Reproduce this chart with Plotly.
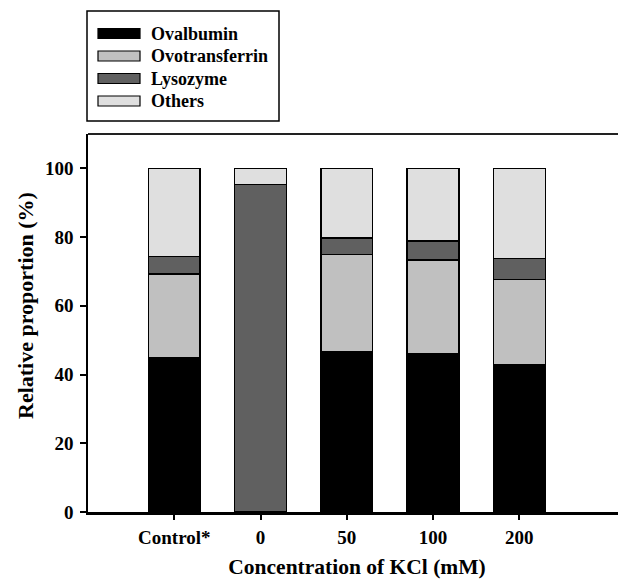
import plotly.graph_objects as go

categories = ["Control*", "0", "50", "100", "200"]
series_names = ["Ovalbumin", "Ovotransferrin", "Lysozyme", "Others"]
ovalbumin = [45.0, 0.0, 46.6, 46.1, 42.9]
ovotransferrin = [24.3, 0.0, 28.3, 27.2, 24.8]
lysozyme = [5.0, 95.3, 4.9, 5.6, 6.0]
others = [25.7, 4.7, 20.2, 21.1, 26.3]
colors = ["#000000", "#c0c0c0", "#606060", "#dfdfdf"]
y_ticks = [0, 20, 40, 60, 80, 100]

# page body has an 8px margin; figure is sized so it ends at the window edge
OFF = 8
W, H = 626 - OFF, 579 - OFF
L, T, B = 88 - OFF, 134 - OFF, 67
R = 0
PW, PH = W - L - R, H - T - B
FONT = "Liberation Serif"


def px(x):
    return (x - OFF - L) / PW


def py(y):
    return (H - B - (y - OFF)) / PH


fig = go.Figure()
for name, vals, col in zip(series_names, [ovalbumin, ovotransferrin, lysozyme, others], colors):
    fig.add_trace(go.Bar(
        x=categories, y=vals, name=name, width=0.6,
        marker=dict(color=col, line=dict(color="#000000", width=1.5)),
        showlegend=False,
    ))

shapes = []
annotations = []
# top frame line
shapes.append(dict(type="line", xref="paper", yref="paper", x0=0, x1=1, y0=1, y1=1,
                   line=dict(color="#222222", width=2)))
# legend box
shapes.append(dict(type="rect", xref="paper", yref="paper",
                   x0=px(87), x1=px(279), y0=py(121), y1=py(11),
                   line=dict(color="#000000", width=1.5), fillcolor="white"))
entry_y = [33.5, 56, 78.5, 101]
for name, col, ey in zip(series_names, colors, entry_y):
    shapes.append(dict(type="rect", xref="paper", yref="paper",
                       x0=px(98), x1=px(140), y0=py(ey + 5), y1=py(ey - 5),
                       line=dict(color="#000000", width=1.2), fillcolor=col))
    annotations.append(dict(xref="paper", yref="paper", x=px(149), y=py(ey),
                            xanchor="left", yanchor="middle", showarrow=False,
                            text=name, font=dict(family=FONT, size=18, color="black", weight="bold")))

# y-axis title (placed slightly above plot centre, as in the reference)
annotations.append(dict(xref="paper", yref="paper", x=px(25), y=py(306),
                        xanchor="center", yanchor="middle", showarrow=False, textangle=-90,
                        text="Relative proportion (%)",
                        font=dict(family=FONT, size=22, color="black", weight="bold")))

fig.update_layout(
    width=W, height=H,
    margin=dict(l=L, r=R, t=T, b=B, pad=0),
    barmode="stack",
    plot_bgcolor="white", paper_bgcolor="white",
    font=dict(family=FONT, size=18, color="black", weight="bold"),
    shapes=shapes, annotations=annotations,
    xaxis=dict(
        range=[-1, 5.236], showgrid=False, zeroline=False,
        showline=True, linecolor="black", linewidth=2.5,
        ticks="outside", ticklen=5, tickwidth=1.5, tickcolor="black",
        ticklabelstandoff=1,
        tickfont=dict(family=FONT, size=19, weight="bold"),
        title=dict(text="Concentration of KCl (mM)", font=dict(family=FONT, size=21.5, weight="bold"), standoff=15),
    ),
    yaxis=dict(
        range=[0, 110], tickvals=y_ticks, showgrid=False, zeroline=False,
        showline=True, linecolor="black", linewidth=1.5,
        ticks="outside", ticklen=6, tickwidth=1.5, tickcolor="black",
        ticklabelstandoff=3,
        tickfont=dict(family=FONT, size=19, weight="bold"),
    ),
)

fig.write_html("out.html")
